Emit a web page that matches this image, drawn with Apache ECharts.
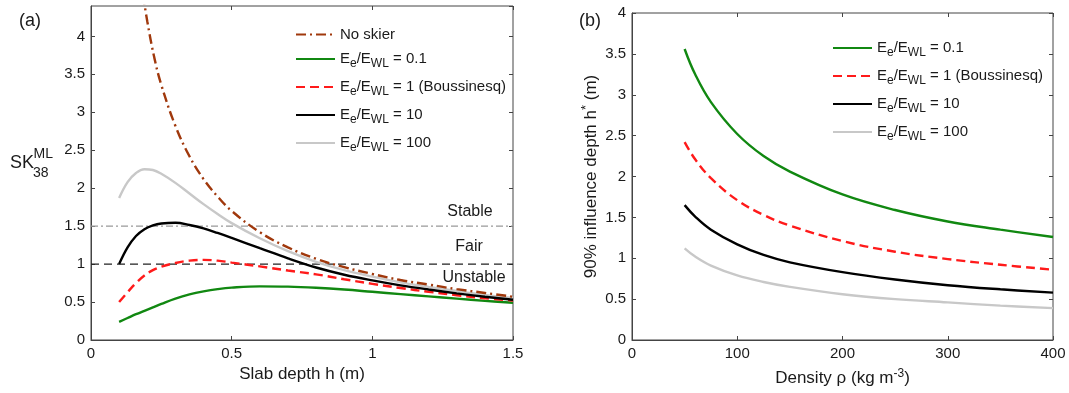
<!DOCTYPE html>
<html>
<head>
<meta charset="utf-8">
<script src="https://cdn.jsdelivr.net/npm/echarts@6/dist/echarts.min.js"></script>
<style>
  html, body { margin: 0; padding: 0; background: #fff; }
  #main { width: 1069px; height: 393px; }
</style>
</head>
<body>
<div id="main"></div>
<script>
// ---- panel (a): skier stability index vs slab depth ----
const depthNoSkier = [0.185, 0.2, 0.225, 0.25, 0.3, 0.35, 0.4, 0.45, 0.5, 0.6, 0.7, 0.8, 0.9, 1.0, 1.1, 1.2, 1.3, 1.4, 1.5]
const skNoSkier = [4.55, 4.2, 3.72, 3.36, 2.82, 2.42, 2.12, 1.89, 1.70, 1.42, 1.22, 1.07, 0.96, 0.87, 0.79, 0.73, 0.67, 0.62, 0.57]
const depth = [0.1, 0.13, 0.16, 0.19, 0.22, 0.25, 0.3, 0.35, 0.4, 0.45, 0.5, 0.6, 0.7, 0.8, 0.9, 1.0, 1.1, 1.2, 1.3, 1.4, 1.5]
const skRatio01 = [0.24, 0.29, 0.34, 0.385, 0.43, 0.475, 0.545, 0.60, 0.64, 0.67, 0.69, 0.707, 0.703, 0.688, 0.665, 0.635, 0.605, 0.575, 0.545, 0.515, 0.49]
const skRatio1 = [0.50, 0.63, 0.75, 0.85, 0.92, 0.965, 1.015, 1.045, 1.055, 1.045, 1.02, 0.97, 0.915, 0.865, 0.80, 0.74, 0.685, 0.635, 0.59, 0.55, 0.52]
const skRatio10 = [1.0, 1.22, 1.37, 1.46, 1.51, 1.535, 1.545, 1.515, 1.47, 1.41, 1.345, 1.21, 1.075, 0.955, 0.86, 0.785, 0.72, 0.665, 0.615, 0.57, 0.53]
const skRatio100 = [1.87, 2.08, 2.20, 2.25, 2.24, 2.19, 2.07, 1.93, 1.79, 1.66, 1.54, 1.34, 1.17, 1.03, 0.92, 0.835, 0.76, 0.70, 0.645, 0.595, 0.555]
const stableLevel = 1.5
const fairLevel = 1
const depthRange = [0, 1.5]

// ---- panel (b): influence depth vs density ----
const density = [50, 60, 75, 100, 125, 150, 200, 250, 300, 350, 400]
const hRatio01 = [3.56, 3.25, 2.91, 2.52, 2.25, 2.06, 1.78, 1.59, 1.45, 1.35, 1.26]
const hRatio1 = [2.42, 2.21, 1.98, 1.71, 1.53, 1.40, 1.21, 1.08, 0.99, 0.92, 0.86]
const hRatio10 = [1.65, 1.51, 1.35, 1.17, 1.04, 0.95, 0.83, 0.74, 0.67, 0.62, 0.58]
const hRatio100 = [1.12, 1.02, 0.91, 0.79, 0.71, 0.65, 0.56, 0.50, 0.46, 0.42, 0.39]

const names = ['No skier', 'Ee/EWL = 0.1', 'Ee/EWL = 1 (Boussinesq)', 'Ee/EWL = 10', 'Ee/EWL = 100']

const FONT = 'Liberation Sans, Arial, Helvetica, sans-serif'
const AXIS_COLOR = '#444'
const TEXT_COLOR = '#1a1a1a'

function pairs (xs, ys) {
  return xs.map((x, i) => [x, ys[i]])
}

function richName (name) {
  if (name.indexOf('Ee/EWL') !== 0) return name
  return '{n|E}{s|e}{n|/E}{s|WL}{n|' + name.slice(6) + '}'
}

const legendRich = {
  n: { fontSize: 15, fontFamily: FONT, color: TEXT_COLOR, lineHeight: 17 },
  s: { fontSize: 12, fontFamily: FONT, color: TEXT_COLOR, lineHeight: 13, padding: [10, 0, 0, 0] }
}

function valueAxis (grid, pos, min, max, interval, showLabel, extra) {
  return Object.assign({
    type: 'value',
    gridIndex: grid,
    position: pos,
    min: min,
    max: max,
    interval: interval,
    axisLine: { show: showLabel, onZero: false, lineStyle: { color: AXIS_COLOR, width: 1 } },
    axisTick: { show: true, inside: true, length: 4, lineStyle: { color: AXIS_COLOR } },
    axisLabel: { show: showLabel, fontSize: 15, fontFamily: FONT, color: TEXT_COLOR, margin: 6 },
    splitLine: { show: false }
  }, extra || {})
}

function curve (name, data, color, type, x, y, width) {
  return {
    name: name,
    type: 'line',
    xAxisIndex: x,
    yAxisIndex: y,
    data: data,
    smooth: 0.4,
    symbol: 'none',
    silent: true,
    lineStyle: { color: color, width: width || 2.4, type: type },
    itemStyle: { color: color }
  }
}

const colors = ['#a0380c', '#118811', '#ff1a1a', '#000000', '#c8c8c8']
const dashes = [[10, 4, 2, 4], 'solid', [9, 5], 'solid', 'solid']

const legendBase = {
  orient: 'vertical',
  itemWidth: 39,
  itemHeight: 12,
  padding: 0,
  selectedMode: false,
  formatter: richName,
  itemStyle: { opacity: 0 },
  textStyle: { fontSize: 15, fontFamily: FONT, color: TEXT_COLOR, rich: legendRich }
}

const chart = echarts.init(document.getElementById('main'))

const option = {
  animation: false,
  backgroundColor: '#fff',
  grid: [
    { left: 91, right: 556, top: 6, bottom: 53, show: true, borderColor: AXIS_COLOR, borderWidth: 1 },
    { left: 632, right: 16, top: 13, bottom: 53, show: true, borderColor: AXIS_COLOR, borderWidth: 1 }
  ],
  xAxis: [
    valueAxis(0, 'bottom', 0, 1.5, 0.5, true, {
      name: 'Slab depth h (m)', nameLocation: 'middle', nameGap: 23,
      nameTextStyle: { fontSize: 17, fontFamily: FONT, color: TEXT_COLOR }
    }),
    valueAxis(0, 'top', 0, 1.5, 0.5, false),
    valueAxis(1, 'bottom', 0, 400, 100, true, {
      name: 'Density ρ (kg m{sup|-3})', nameLocation: 'middle', nameGap: 28,
      nameTextStyle: {
        fontSize: 17, fontFamily: FONT, color: TEXT_COLOR,
        rich: { sup: { fontSize: 12, fontFamily: FONT, color: TEXT_COLOR, padding: [0, 0, 9, 0] } }
      }
    }),
    valueAxis(1, 'top', 0, 400, 100, false)
  ],
  yAxis: [
    valueAxis(0, 'left', 0, 4.4, 0.5, true, {
      axisLabel: { show: true, showMaxLabel: false, fontSize: 15, fontFamily: FONT, color: TEXT_COLOR, margin: 6 }
    }),
    valueAxis(0, 'right', 0, 4.4, 0.5, false),
    valueAxis(1, 'left', 0, 4, 0.5, true, {
      name: '90% influence depth h{sup|*} (m)', nameLocation: 'middle', nameGap: 30,
      nameTextStyle: {
        fontSize: 17, fontFamily: FONT, color: TEXT_COLOR,
        rich: { sup: { fontSize: 13, fontFamily: FONT, color: TEXT_COLOR, padding: [0, 0, 9, 0] } }
      }
    }),
    valueAxis(1, 'right', 0, 4, 0.5, false)
  ],
  legend: [
    Object.assign({}, legendBase, { data: names, left: 295, top: 27, itemGap: 6 }),
    Object.assign({}, legendBase, { data: names.slice(1), left: 832, top: 37, itemGap: 6 })
  ],
  series: [
    // threshold lines
    {
      type: 'line', xAxisIndex: 0, yAxisIndex: 0, symbol: 'none', silent: true,
      data: [[depthRange[0], stableLevel], [depthRange[1], stableLevel]],
      lineStyle: { color: '#999', width: 1.4, type: [7, 3, 2, 3] }
    },
    {
      type: 'line', xAxisIndex: 0, yAxisIndex: 0, symbol: 'none', silent: true,
      data: [[depthRange[0], fairLevel], [depthRange[1], fairLevel]],
      lineStyle: { color: '#222', width: 1.3, type: [8, 5] }
    },
    curve(names[4], pairs(depth, skRatio100), colors[4], dashes[4], 0, 0),
    curve(names[1], pairs(depth, skRatio01), colors[1], dashes[1], 0, 0),
    curve(names[2], pairs(depth, skRatio1), colors[2], dashes[2], 0, 0),
    curve(names[3], pairs(depth, skRatio10), colors[3], dashes[3], 0, 0),
    curve(names[0], pairs(depthNoSkier, skNoSkier), colors[0], dashes[0], 0, 0),
    curve(names[1], pairs(density, hRatio01), colors[1], dashes[1], 2, 2),
    curve(names[2], pairs(density, hRatio1), colors[2], dashes[2], 2, 2),
    curve(names[3], pairs(density, hRatio10), colors[3], dashes[3], 2, 2),
    curve(names[4], pairs(density, hRatio100), colors[4], dashes[4], 2, 2)
  ],
  graphic: [
    { type: 'text', x: 19, y: 21, style: { text: '(a)', font: '18px ' + FONT, fill: TEXT_COLOR, verticalAlign: 'middle' } },
    { type: 'text', x: 579, y: 21, style: { text: '(b)', font: '18px ' + FONT, fill: TEXT_COLOR, verticalAlign: 'middle' } },
    { type: 'text', x: 10, y: 163, style: { text: 'SK', font: '18px ' + FONT, fill: TEXT_COLOR, verticalAlign: 'middle' } },
    { type: 'text', x: 33.5, y: 154, style: { text: 'ML', font: '14px ' + FONT, fill: TEXT_COLOR, verticalAlign: 'middle' } },
    { type: 'text', x: 33, y: 173, style: { text: '38', font: '14px ' + FONT, fill: TEXT_COLOR, verticalAlign: 'middle' } },
    { type: 'text', x: 470, y: 212, style: { text: 'Stable', font: '16px ' + FONT, fill: TEXT_COLOR, align: 'center', verticalAlign: 'middle' } },
    { type: 'text', x: 469, y: 247, style: { text: 'Fair', font: '16px ' + FONT, fill: TEXT_COLOR, align: 'center', verticalAlign: 'middle' } },
    { type: 'text', x: 474, y: 278, style: { text: 'Unstable', font: '16px ' + FONT, fill: TEXT_COLOR, align: 'center', verticalAlign: 'middle' } }
  ]
}

chart.setOption(option)
</script>
</body>
</html>
